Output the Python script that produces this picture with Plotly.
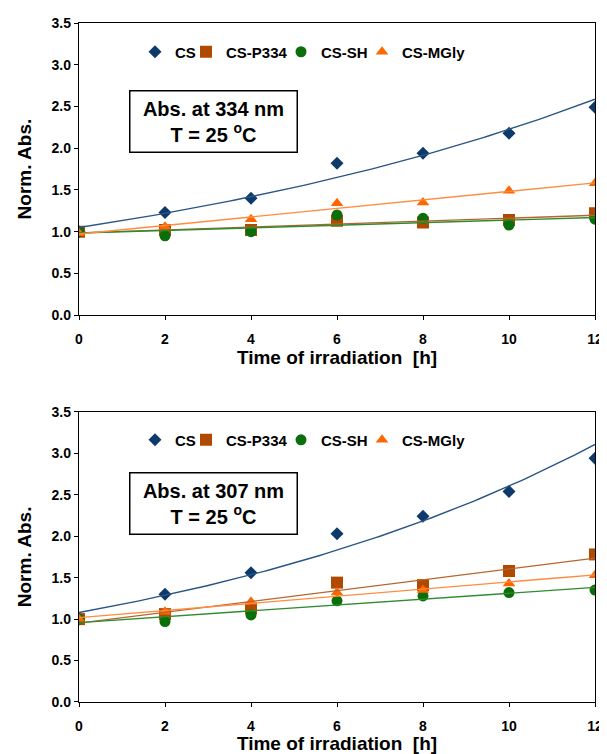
import numpy as np
import plotly.graph_objects as go
from plotly.subplots import make_subplots

hours = [0, 2, 4, 6, 8, 10, 12]
series_names = ["CS", "CS-P334", "CS-SH", "CS-MGly"]

# Panel 1: Abs. at 334 nm
cs_334 = [1.00, 1.23, 1.40, 1.82, 1.94, 2.18, 2.49]
p334_334 = [1.00, 1.02, 1.02, 1.13, 1.11, 1.14, 1.22]
sh_334 = [1.00, 0.95, 1.00, 1.20, 1.16, 1.08, 1.15]
mgly_334 = [0.98, 1.06, 1.15, 1.34, 1.35, 1.49, 1.58]

# Panel 2: Abs. at 307 nm
cs_307 = [1.00, 1.30, 1.56, 2.03, 2.24, 2.54, 2.94]
p334_307 = [1.00, 1.06, 1.13, 1.44, 1.41, 1.58, 1.78]
sh_307 = [1.00, 0.97, 1.05, 1.22, 1.28, 1.32, 1.35]
mgly_307 = [1.00, 1.09, 1.21, 1.32, 1.35, 1.43, 1.53]

panel_labels = ["Abs. at 334 nm", "Abs. at 307 nm"]
temp_label = "T = 25 <sup>o</sup>C"
x_title = "Time of irradiation  [h]"
y_title = "Norm. Abs."

marker_colors = ["#0E3A6B", "#B04A00", "#0A6E0A", "#FF6600"]
line_colors = ["#2A5585", "#B8642E", "#2E8B2E", "#FF8C40"]
symbols = ["diamond", "square", "circle", "triangle-up"]
sizes = [10, 12, 11, 11]
fit_kind = ["exp", "lin", "lin", "lin"]

FONT = "Liberation Sans, Arial, sans-serif"

# the page body has an 8px margin, so work in figure pixels = page pixels - 8
OFF = 8
W, H = 607 - OFF, 754 - OFF
ml = 79 - OFF
plot_right = 595 - OFF
mr = W - plot_right
mt = 22.7 - OFF
plot_bottom = 702 - OFF
mb = H - plot_bottom
pw = W - ml - mr
ph = H - mt - mb
top_dom = [(plot_bottom - (315 - OFF)) / ph, 1.0]
bot_dom = [0.0, (plot_bottom - (411.7 - OFF)) / ph]

panels = [
    [cs_334, p334_334, sh_334, mgly_334],
    [cs_307, p334_307, sh_307, mgly_307],
]
xs = np.array(hours, dtype=float)
xfine = np.linspace(0, 12, 121)

fig = make_subplots(rows=2, cols=1)

# one legend per entry so each entry can sit where the reference has it
legend_left_px = [135, 186, 281, 362]
legend_center_px = [51.7, 440.0]

for p, data in enumerate(panels):
    row = p + 1
    for i, ys in enumerate(data):
        k = p * 4 + i + 1
        lname = "legend" if k == 1 else f"legend{k}"
        fig.add_trace(
            go.Scatter(
                x=hours, y=ys, mode="markers", name=series_names[i],
                marker=dict(symbol=symbols[i], size=sizes[i], color=marker_colors[i],
                            line=dict(width=0)),
                legend=lname, showlegend=True,
            ),
            row=row, col=1,
        )
        fig.update_layout({lname: dict(
            x=(legend_left_px[i] - OFF - ml) / pw,
            y=(plot_bottom - (legend_center_px[p] - OFF)) / ph,
            xanchor="left", yanchor="middle", orientation="h",
            font=dict(family=FONT, size=15, color="black", weight="bold"),
            bgcolor="rgba(0,0,0,0)", borderwidth=0, itemwidth=30,
        )})
    for i, ys in enumerate(data):
        yarr = np.array(ys, dtype=float)
        if fit_kind[i] == "exp":
            b, a = np.polyfit(xs, np.log(yarr), 1)
            yfit = np.exp(a + b * xfine)
        else:
            b, a = np.polyfit(xs, yarr, 1)
            yfit = a + b * xfine
        fig.add_trace(
            go.Scatter(
                x=xfine, y=yfit, mode="lines", line=dict(color=line_colors[i], width=1.4),
                showlegend=False, hoverinfo="skip",
            ),
            row=row, col=1,
        )

axis_common = dict(
    showgrid=False, zeroline=False, showline=True, linecolor="black", linewidth=1.3,
    mirror=True, ticks="outside", ticklen=4, tickwidth=1.2, tickcolor="black",
    automargin=False,
    tickfont=dict(family=FONT, size=14, color="black", weight="bold"),
)

for r, dom in [(1, top_dom), (2, bot_dom)]:
    fig.update_xaxes(
        range=[0, 12], tickvals=hours, ticktext=[str(h) for h in hours],
        ticklabelstandoff=7,
        title=dict(text=x_title, font=dict(family=FONT, size=19, color="black", weight="bold"),
                   standoff=2),
        **axis_common, row=r, col=1,
    )
    fig.update_yaxes(
        range=[0, 3.5], dtick=0.5, tickformat=".1f", domain=dom,
        title=dict(text=y_title, font=dict(family=FONT, size=19, color="black", weight="bold"),
                   standoff=14),
        **axis_common, row=r, col=1,
    )

box_center_px = [121.0, 503.5]
for p in range(2):
    fig.add_annotation(
        xref="paper", yref="paper", x=(213 - OFF - ml) / pw,
        y=(plot_bottom - (box_center_px[p] - OFF)) / ph,
        xanchor="center", yanchor="middle",
        text=panel_labels[p] + "<br>" + temp_label, showarrow=False,
        font=dict(family=FONT, size=20, color="black", weight="bold"),
        bordercolor="black", borderwidth=1.5, borderpad=2, bgcolor="white",
        width=162, height=56, align="center",
    )

fig.update_layout(
    width=W, height=H, margin=dict(l=ml, r=mr, t=mt, b=mb, autoexpand=False),
    paper_bgcolor="white", plot_bgcolor="white",
)

fig.write_html("out.html")
